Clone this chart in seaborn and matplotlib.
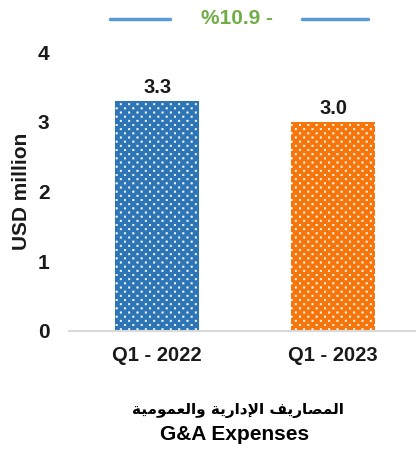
import matplotlib
matplotlib.use("Agg")
import matplotlib.pyplot as plt
import matplotlib.hatch as mhatch
from matplotlib.path import Path
import numpy as np
import seaborn as sns
import pandas as pd

categories = ["Q1 - 2022", "Q1 - 2023"]
values = [3.3, 3.0]
value_labels = ["3.3", "3.0"]
yticks = [0, 1, 2, 3, 4]
change_label = "%10.9 -"
ylabel = "USD million"
# Arabic title (logical order), pre-shaped into presentation forms for display
arabic_logical = "المصاريف الإدارية والعمومية"
arabic_shaped_logical = ("\uFE8D\uFEDF\uFEE4\uFEBC\uFE8E\uFEAD\uFEF3\uFED2 "
                         "\uFE8D\uFEF9\uFEA9\uFE8D\uFEAD\uFEF3\uFE94 "
                         "\uFEED\uFE8D\uFEDF\uFECC\uFEE4\uFEEE\uFEE3\uFEF4\uFE94")
arabic_visual = arabic_shaped_logical[::-1]
english_title = "G&A Expenses"

colors = ["#2E75B6", "#F7760B"]


# custom dotted hatch: small squares on a diagonal (staggered) grid
class DiagSquareDots(mhatch.HatchPatternBase):
    half = 0.007

    def __init__(self, hatch, density):
        n = hatch.count('.')
        self.pts = []
        if n:
            ncols = 12 * n
            nrows = 2 * ncols
            for r in range(nrows + 1):
                y = r / nrows
                if r % 2 == 0:
                    xs = [j / ncols for j in range(ncols + 1)]
                else:
                    xs = [(j + 0.5) / ncols for j in range(ncols)]
                for x in xs:
                    self.pts.append((x, y))
        self.num_vertices = len(self.pts) * 5

    def set_vertices_and_codes(self, vertices, codes):
        h = self.half
        sq = np.array([[-h, -h], [h, -h], [h, h], [-h, h], [-h, -h]])
        sc = [Path.MOVETO, Path.LINETO, Path.LINETO, Path.LINETO, Path.CLOSEPOLY]
        vs = [sq + p for p in self.pts]
        np.concatenate(vs, out=vertices)
        codes[:] = np.tile(sc, len(self.pts))


mhatch._hatch_types[:] = [t for t in mhatch._hatch_types
                          if t is not mhatch.SmallFilledCircles] + [DiagSquareDots]

sns.set_theme(style="white")
plt.rcParams["font.family"] = ["Liberation Sans", "DejaVu Sans"]
plt.rcParams["hatch.linewidth"] = 0.4

fig = plt.figure(figsize=(4.16, 4.51), dpi=100)
ax = fig.add_axes([69/416, (451-331)/451, 1 - 69/416, (331-52)/451])

df = pd.DataFrame({"cat": categories, "val": values})
sns.barplot(data=df, x="cat", y="val", hue="cat", palette=colors,
            width=0.48, legend=False, ax=ax, saturation=1)

for p in ax.patches:
    p.set_hatch(".")
    p.set_edgecolor("white")
    p.set_linewidth(0)

for i, (v, lab) in enumerate(zip(values, value_labels)):
    ax.annotate(lab, (i, v), xytext=(0, 3), textcoords="offset points",
                ha="center", va="bottom", fontsize=14.5, fontweight="bold",
                color="#1a1a1a")

ax.set_ylim(0, 4)
ax.set_xlim(-0.5, 1.47)
ax.set_yticks(yticks)
ax.set_yticklabels([str(t) for t in yticks], fontsize=15, fontweight="bold", color="#1a1a1a")
ax.tick_params(axis="y", length=0, pad=14)
ax.tick_params(axis="x", length=0, pad=11)
for lab in ax.get_xticklabels():
    lab.set_fontsize(14.5)
    lab.set_fontweight("bold")
    lab.set_color("#1a1a1a")
ax.set_xlabel("")
ax.set_ylabel(ylabel, fontsize=15, fontweight="bold", color="#1a1a1a", labelpad=5)
for s in ["top", "right", "left"]:
    ax.spines[s].set_visible(False)
ax.spines["bottom"].set_color("#D9D9D9")
ax.spines["bottom"].set_linewidth(1.5)

# top change annotation
fig.add_artist(plt.Line2D([110/416, 170/416], [1 - 19/451, 1 - 19/451],
                          color="#5B9BD5", lw=2.5))
fig.add_artist(plt.Line2D([302/416, 368/416], [1 - 19/451, 1 - 19/451],
                          color="#5B9BD5", lw=2.5))
fig.text(237/416, 1 - 19/451, change_label, ha="center", va="center",
         fontsize=15, fontweight="bold", color="#70AD47")

fig.text(238/416, 1 - 411/451, arabic_visual, ha="center", va="center",
         fontsize=11, fontweight="bold", color="black", family=["DejaVu Sans"])
fig.text(235/416, 1 - 434/451, english_title, ha="center", va="center",
         fontsize=15, fontweight="bold", color="black")

fig.savefig("out.png", dpi=100)
